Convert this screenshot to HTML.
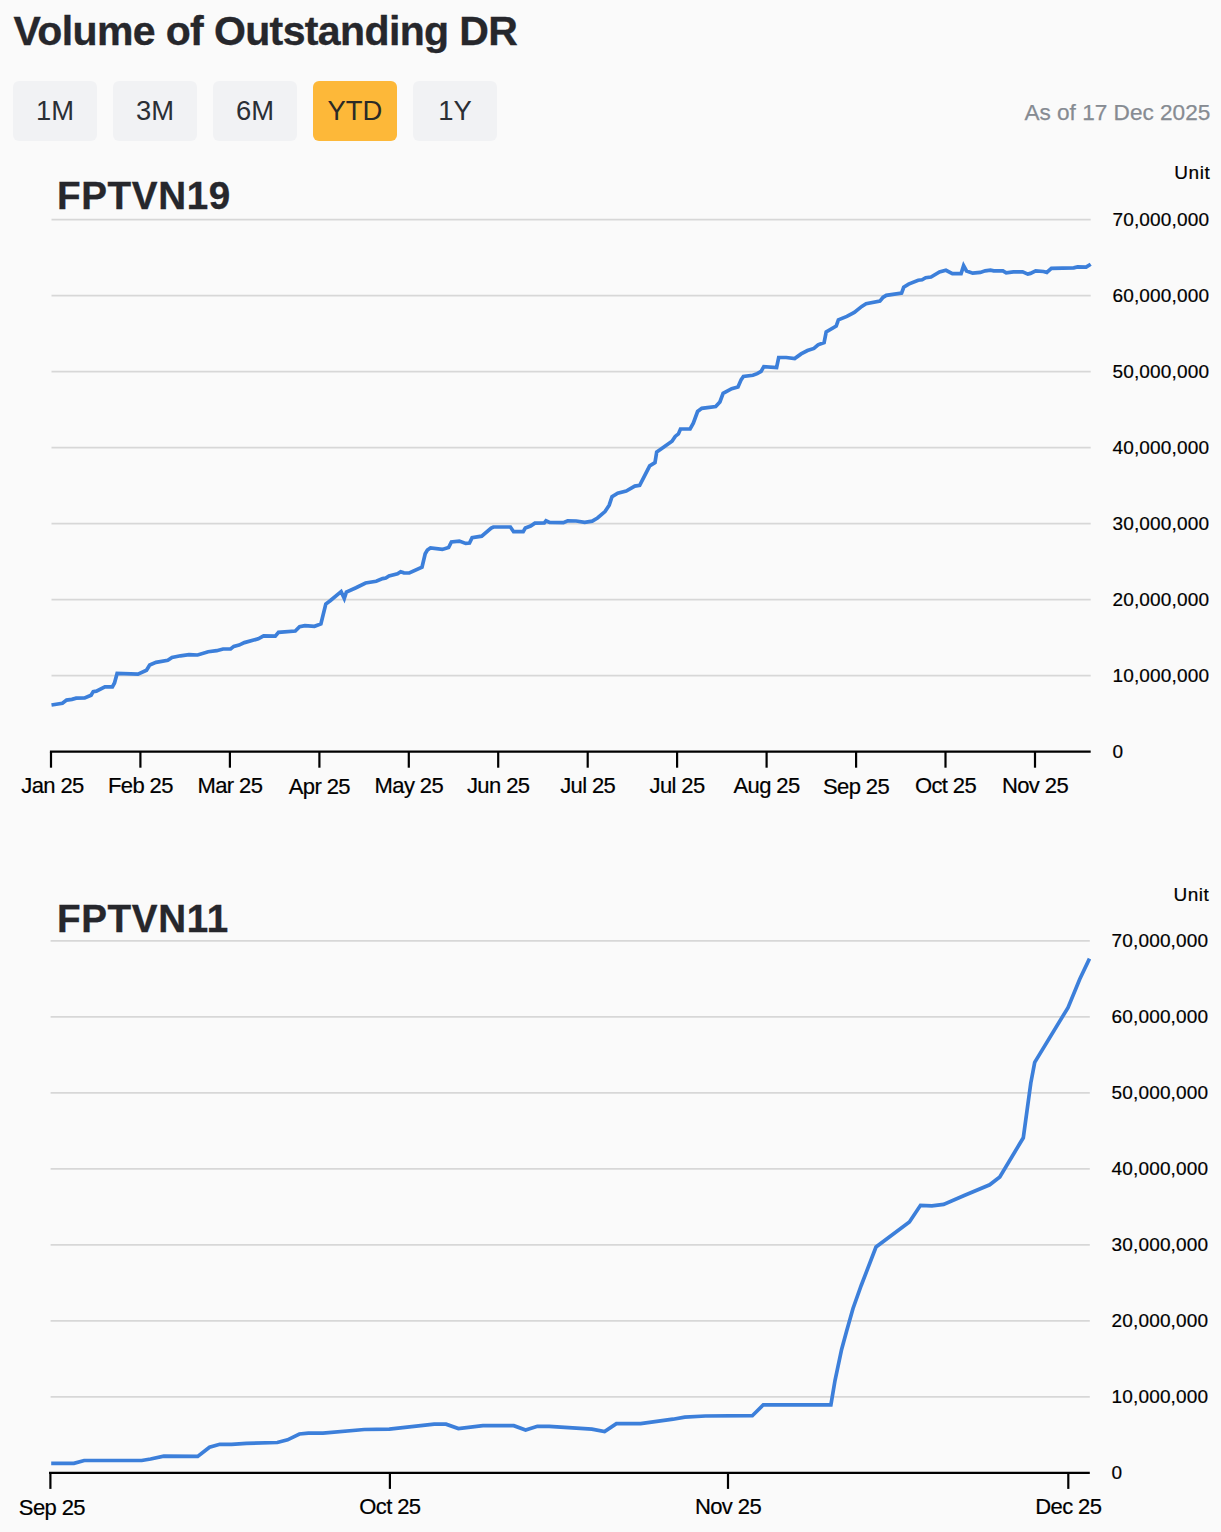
<!DOCTYPE html>
<html lang="en"><head><meta charset="utf-8"><title>Volume of Outstanding DR</title>
<style>
html,body{margin:0;padding:0;}
body{width:1221px;height:1532px;background:#fafafa;position:relative;overflow:hidden;font-family:"Liberation Sans",sans-serif;}
h1{position:absolute;left:13.6px;top:7.8px;margin:0;font-size:41px;line-height:46px;font-weight:bold;color:#26272c;white-space:nowrap;letter-spacing:-0.62px;-webkit-text-stroke:0.35px #26272c;}
.btn{position:absolute;top:81px;width:84px;height:59.5px;border-radius:6px;background:#f1f2f4;color:#2b2f35;font-size:27.4px;line-height:60px;text-align:center;}
.btn.on{background:#fdb839;color:#2b2a26;}
.asof{position:absolute;right:10.7px;top:99.7px;font-size:22.6px;line-height:26px;color:#868b92;white-space:nowrap;-webkit-text-stroke:0.25px #868b92;}
svg{position:absolute;left:0;top:0;}
svg text{font-family:"Liberation Sans",sans-serif;}
.ttl{font-size:38.6px;font-weight:bold;fill:#26272c;letter-spacing:0.65px;stroke:#26272c;stroke-width:0.35px;}
.yl{font-size:19px;fill:#000;letter-spacing:0.15px;stroke:#000;stroke-width:0.2px;}
.un{letter-spacing:0.55px;}
.xl{font-size:22px;fill:#000;text-anchor:middle;letter-spacing:-0.6px;stroke:#000;stroke-width:0.2px;}
</style></head><body>
<h1>Volume of Outstanding DR</h1>
<div class="btn" style="left:13px">1M</div>
<div class="btn" style="left:113px">3M</div>
<div class="btn" style="left:213px">6M</div>
<div class="btn on" style="left:313px">YTD</div>
<div class="btn" style="left:413px">1Y</div>
<div class="asof">As of 17 Dec 2025</div>
<svg width="1221" height="1532" viewBox="0 0 1221 1532">

<text class="ttl" x="57" y="209.2">FPTVN19</text>
<text class="yl un" x="1210.3" y="179.4" text-anchor="end">Unit</text>
<g stroke="#d7d7d7" stroke-width="1.8">
<line x1="51.5" y1="219.7" x2="1090.7" y2="219.7"/>
<line x1="51.5" y1="295.7" x2="1090.7" y2="295.7"/>
<line x1="51.5" y1="371.7" x2="1090.7" y2="371.7"/>
<line x1="51.5" y1="447.7" x2="1090.7" y2="447.7"/>
<line x1="51.5" y1="523.7" x2="1090.7" y2="523.7"/>
<line x1="51.5" y1="599.7" x2="1090.7" y2="599.7"/>
<line x1="51.5" y1="675.7" x2="1090.7" y2="675.7"/>
</g>
<text class="yl" x="1112.5" y="226.2">70,000,000</text>
<text class="yl" x="1112.5" y="302.2">60,000,000</text>
<text class="yl" x="1112.5" y="378.2">50,000,000</text>
<text class="yl" x="1112.5" y="454.2">40,000,000</text>
<text class="yl" x="1112.5" y="530.2">30,000,000</text>
<text class="yl" x="1112.5" y="606.2">20,000,000</text>
<text class="yl" x="1112.5" y="682.2">10,000,000</text>
<text class="yl" x="1112.5" y="758.2">0</text>
<polyline fill="none" stroke="#3c7fda" stroke-width="3.7" stroke-linejoin="miter" stroke-miterlimit="5" stroke-linecap="butt" points="51.5,705.0 62.4,703.3 66.6,700.1 71.9,699.4 76.2,698.2 84.7,698.0 91.1,695.2 93.2,691.6 96.4,691.1 104.9,686.9 112.4,686.9 114.5,683.0 117.1,673.5 138.0,674.1 146.5,670.3 149.7,665.0 156.0,662.4 167.8,660.3 172.0,657.5 180.5,655.8 189.0,654.7 197.6,655.0 208.2,651.7 216.7,650.7 223.1,649.0 230.6,649.0 233.8,646.4 239.1,645.1 244.4,642.6 258.3,638.8 263.6,635.8 275.3,636.2 278.5,632.4 295.3,631.0 299.6,626.7 304.9,625.6 314.5,626.3 320.9,623.9 325.8,604.1 330.5,600.5 341.1,591.6 344.3,598.4 346.4,592.0 356.0,587.7 365.6,583.0 376.2,581.3 382.6,578.6 385.8,578.1 389.0,576.0 397.5,573.9 400.7,571.8 403.9,572.8 409.3,573.0 422.0,567.1 425.2,553.7 427.4,550.0 430.5,547.9 442.3,549.4 448.6,547.5 451.4,541.9 459.3,541.1 465.7,543.4 469.5,543.0 472.1,537.7 481.7,536.2 491.2,528.1 493.4,527.0 510.4,527.0 513.6,531.7 523.2,531.7 525.3,528.1 530.6,526.0 534.9,523.2 544.3,522.9 546.0,520.8 549.6,522.5 563.4,522.7 567.7,520.8 576.2,521.0 584.7,522.3 592.2,521.2 597.5,518.0 605.0,511.6 609.2,505.2 612.0,496.7 617.7,493.1 626.2,491.0 634.8,486.1 639.7,485.4 649.7,465.8 655.0,462.6 656.7,452.0 661.4,448.8 672.0,441.3 675.2,436.4 678.4,433.9 680.5,429.0 690.1,429.0 693.3,423.2 697.6,411.5 701.8,408.3 715.7,406.6 719.9,401.9 723.1,393.4 731.7,388.7 738.0,387.0 741.2,379.6 743.4,376.4 752.9,375.3 757.2,373.6 761.1,371.4 763.8,366.7 776.6,367.5 778.7,357.5 786.2,357.5 794.7,358.6 801.1,353.9 807.5,350.5 813.9,348.4 818.1,344.8 824.1,342.6 826.2,332.0 836.2,326.0 838.4,319.8 846.9,316.4 854.3,312.4 861.8,306.4 866.1,303.7 879.9,301.1 883.1,297.3 886.3,295.4 901.6,293.2 903.7,287.3 908.6,284.1 918.2,280.2 922.1,279.8 925.7,277.7 931.0,277.0 939.5,271.9 945.9,270.3 952.4,273.6 961.1,273.6 963.6,265.6 966.5,270.9 972.7,273.2 980.3,272.4 985.2,270.8 990.5,270.1 993.7,270.8 1002.9,270.8 1006.2,272.8 1013.4,271.8 1022.6,271.8 1027.8,274.1 1030.4,273.4 1035.7,270.8 1043.5,271.5 1046.8,272.4 1051.4,268.4 1073.7,267.8 1077.6,266.9 1086.1,267.1 1090.7,264.2"/>
<g stroke="#000" stroke-width="2.2" fill="none">
<line x1="49.9" y1="751.7" x2="1090.7" y2="751.7"/>
<line x1="51.0" y1="751.7" x2="51.0" y2="767.7"/>
<line x1="140.4" y1="751.7" x2="140.4" y2="767.7"/>
<line x1="229.9" y1="751.7" x2="229.9" y2="767.7"/>
<line x1="319.4" y1="751.7" x2="319.4" y2="767.7"/>
<line x1="408.8" y1="751.7" x2="408.8" y2="767.7"/>
<line x1="498.2" y1="751.7" x2="498.2" y2="767.7"/>
<line x1="587.7" y1="751.7" x2="587.7" y2="767.7"/>
<line x1="677.1" y1="751.7" x2="677.1" y2="767.7"/>
<line x1="766.6" y1="751.7" x2="766.6" y2="767.7"/>
<line x1="856.1" y1="751.7" x2="856.1" y2="767.7"/>
<line x1="945.5" y1="751.7" x2="945.5" y2="767.7"/>
<line x1="1035.0" y1="751.7" x2="1035.0" y2="767.7"/>
</g>
<text class="xl" x="52.5" y="792.7">Jan 25</text>
<text class="xl" x="140.4" y="792.7">Feb 25</text>
<text class="xl" x="229.9" y="792.7">Mar 25</text>
<text class="xl" x="319.4" y="793.7">Apr 25</text>
<text class="xl" x="408.8" y="792.7">May 25</text>
<text class="xl" x="498.2" y="792.7">Jun 25</text>
<text class="xl" x="587.7" y="792.7">Jul 25</text>
<text class="xl" x="677.1" y="792.7">Jul 25</text>
<text class="xl" x="766.6" y="792.7">Aug 25</text>
<text class="xl" x="856.1" y="793.7">Sep 25</text>
<text class="xl" x="945.5" y="792.7">Oct 25</text>
<text class="xl" x="1035.0" y="792.7">Nov 25</text>
<text class="ttl" x="57" y="931.8">FPTVN11</text>
<text class="yl un" x="1209.4" y="900.6" text-anchor="end">Unit</text>
<g stroke="#d7d7d7" stroke-width="1.8">
<line x1="50.6" y1="940.9" x2="1089.8" y2="940.9"/>
<line x1="50.6" y1="1016.9" x2="1089.8" y2="1016.9"/>
<line x1="50.6" y1="1092.9" x2="1089.8" y2="1092.9"/>
<line x1="50.6" y1="1168.9" x2="1089.8" y2="1168.9"/>
<line x1="50.6" y1="1244.9" x2="1089.8" y2="1244.9"/>
<line x1="50.6" y1="1320.9" x2="1089.8" y2="1320.9"/>
<line x1="50.6" y1="1396.9" x2="1089.8" y2="1396.9"/>
</g>
<text class="yl" x="1111.6" y="947.4">70,000,000</text>
<text class="yl" x="1111.6" y="1023.4">60,000,000</text>
<text class="yl" x="1111.6" y="1099.4">50,000,000</text>
<text class="yl" x="1111.6" y="1175.4">40,000,000</text>
<text class="yl" x="1111.6" y="1251.4">30,000,000</text>
<text class="yl" x="1111.6" y="1327.4">20,000,000</text>
<text class="yl" x="1111.6" y="1403.4">10,000,000</text>
<text class="yl" x="1111.6" y="1479.4">0</text>
<polyline fill="none" stroke="#3c7fda" stroke-width="3.7" stroke-linejoin="miter" stroke-miterlimit="5" stroke-linecap="butt" points="51.2,1463.4 73.9,1463.4 84.2,1460.5 141.7,1460.5 150.6,1459.0 163.8,1456.1 197.7,1456.4 209.5,1447.2 219.8,1444.3 231.6,1444.3 246.4,1443.4 277.3,1442.5 287.6,1439.8 299.4,1434.0 308.3,1433.1 323.0,1433.1 364.3,1429.5 389.3,1429.2 434.2,1424.2 446.0,1424.2 458.4,1428.6 482.9,1425.7 513.8,1425.7 525.6,1430.1 537.4,1426.3 549.2,1426.3 591.9,1429.2 604.6,1431.6 616.4,1423.6 640.6,1423.6 673.0,1419.2 684.8,1417.1 705.4,1416.0 752.3,1415.7 763.3,1404.8 830.9,1404.8 835.0,1380.5 841.6,1349.4 846.5,1331.4 853.0,1308.5 861.2,1285.5 876.0,1247.0 909.4,1222.0 920.5,1205.3 931.9,1205.9 943.6,1204.4 964.2,1195.5 989.7,1184.8 999.8,1176.9 1023.3,1137.8 1030.8,1083.0 1034.7,1062.4 1068.0,1007.6 1079.7,979.2 1089.5,958.6"/>
<g stroke="#000" stroke-width="2.2" fill="none">
<line x1="49.0" y1="1472.9" x2="1089.8" y2="1472.9"/>
<line x1="50.4" y1="1472.9" x2="50.4" y2="1488.9"/>
<line x1="389.9" y1="1472.9" x2="389.9" y2="1488.9"/>
<line x1="728.0" y1="1472.9" x2="728.0" y2="1488.9"/>
<line x1="1068.3" y1="1472.9" x2="1068.3" y2="1488.9"/>
</g>
<text class="xl" x="51.9" y="1514.9">Sep 25</text>
<text class="xl" x="389.9" y="1513.9">Oct 25</text>
<text class="xl" x="728.0" y="1513.9">Nov 25</text>
<text class="xl" x="1068.3" y="1513.9">Dec 25</text>
</svg>
</body></html>
